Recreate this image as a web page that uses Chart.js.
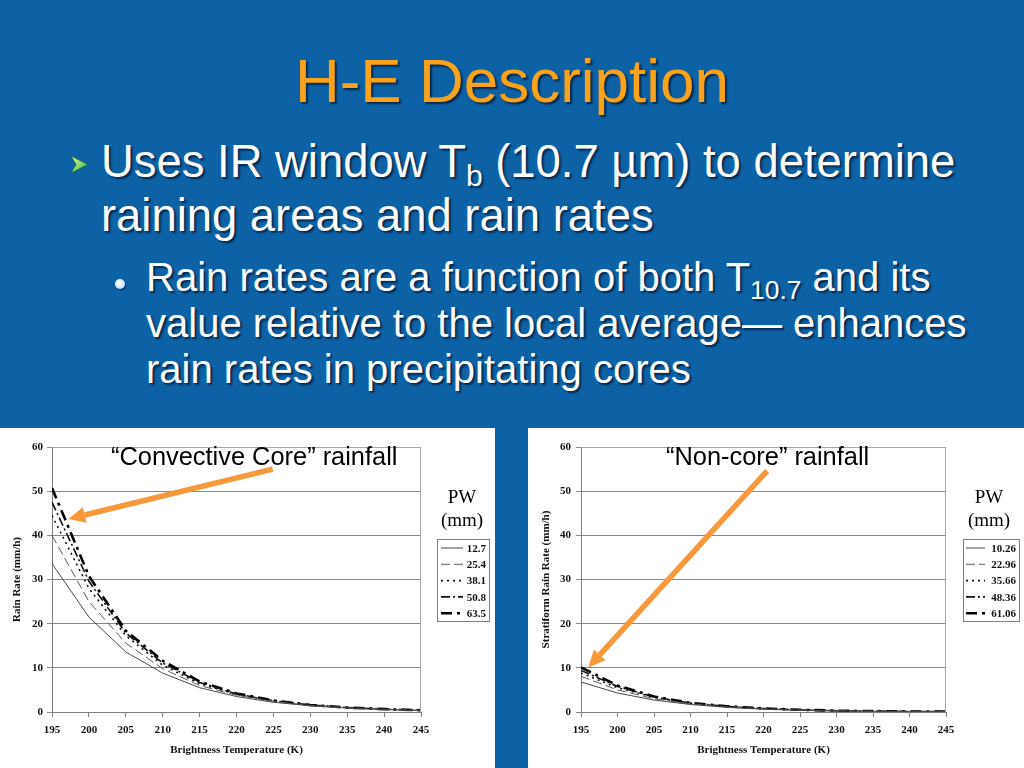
<!DOCTYPE html>
<html>
<head>
<meta charset="utf-8">
<script src="https://cdn.jsdelivr.net/npm/chart.js@4.4.1/dist/chart.umd.min.js"></script>
<style>
  html, body { margin: 0; padding: 0; }
  body {
    width: 1024px; height: 768px; position: relative; overflow: hidden;
    background: #0d62a6;
    font-family: "Liberation Sans", Arial, sans-serif;
  }
  .txt { position: absolute; white-space: nowrap; text-shadow: 2px 2px 2px rgba(0, 20, 50, 0.75); }
  .title { left: 0; width: 1024px; top: 50px; text-align: center; color: #fba21c; font-size: 62px; line-height: 62px; }
  .lvl1 { left: 101px; top: 135px; color: #fff; font-size: 45.4px; line-height: 54px; }
  .lvl2 { left: 146px; top: 254px; color: #fff; font-size: 40px; line-height: 46px; }
  .sub { position: relative; top: 0.3em; font-size: 0.66em; line-height: 0; }
  .dot { position: absolute; left: 115px; top: 279px; width: 10px; height: 10px; border-radius: 50%;
         background: radial-gradient(circle at 35% 35%, #ffffff, #b8d8f4); box-shadow: 1px 1px 1px rgba(0,0,0,.5); }
  .panel { position: absolute; top: 428px; height: 340px; background: #fff; }
  canvas { position: absolute; top: 428px; }
  .note { position: absolute; color: #000; font-size: 25.4px; line-height: 25px; white-space: nowrap; }
  .pw { position: absolute; width: 60px; text-align: center; color: #000;
        font-family: "Liberation Serif", "Times New Roman", serif; font-size: 19px; line-height: 23px; top: 485px; }
</style>
</head>
<body>
<div class="txt title">H-E Description</div>
<svg style="position:absolute;left:70px;top:155px" width="19" height="19" viewBox="0 0 19 19">
  <defs><linearGradient id="g" x1="0" y1="0" x2="1" y2="1">
    <stop offset="0" stop-color="#e4ff9a"/><stop offset="1" stop-color="#2fae4a"/></linearGradient></defs>
  <polygon points="1,1 18,9.5 1,18 6,9.5" fill="url(#g)" stroke="#155e2a" stroke-width="0.7"/>
</svg>
<div class="txt lvl1">Uses IR window T<span class="sub">b</span> (10.7 µm) to determine<br>raining areas and rain rates</div>
<div class="dot"></div>
<div class="txt lvl2">Rain rates are a function of both T<span class="sub">10.7</span> and its<br>value relative to the local average— enhances<br>rain rates in precipitating cores</div>

<div class="panel" style="left:0;width:495px"></div>
<div class="panel" style="left:528px;width:496px"></div>
<canvas id="coreChart" width="495" height="340" style="left:0"></canvas>
<canvas id="stratChart" width="496" height="340" style="left:528px"></canvas>

<div class="note" style="left:111px;top:444px">“Convective Core” rainfall</div>
<div class="note" style="left:666px;top:444px">“Non-core” rainfall</div>
<div class="pw" style="left:432px">PW<br>(mm)</div>
<div class="pw" style="left:959px">PW<br>(mm)</div>

<script>
// brightness temperature (K)
const tempK = [195, 200, 205, 210, 215, 220, 225, 230, 235, 240, 245];

// convective core rain rate (mm/h) by PW (mm)
const coreLabels = ["12.7", "25.4", "38.1", "50.8", "63.5"];
const core127 = [33.6, 21.5, 13.6, 8.8, 5.5, 3.5, 2.2, 1.4, 0.9, 0.55, 0.35];
const core254 = [40.0, 25.0, 15.6, 9.8, 6.0, 3.8, 2.4, 1.5, 0.95, 0.6, 0.38];
const core381 = [44.5, 28.0, 17.3, 10.6, 6.4, 4.0, 2.5, 1.55, 1.0, 0.62, 0.4];
const core508 = [47.5, 29.6, 17.9, 11.1, 6.7, 4.1, 2.55, 1.6, 1.0, 0.63, 0.4];
const core635 = [50.7, 30.8, 18.4, 11.6, 6.9, 4.2, 2.6, 1.6, 1.0, 0.64, 0.4];

// stratiform (non-core) rain rate (mm/h) by PW (mm)
const stratLabels = ["10.26", "22.96", "35.66", "48.36", "61.06"];
const strat1026 = [6.8, 4.3, 2.7, 1.7, 1.05, 0.65, 0.4, 0.25, 0.15, 0.1, 0.06];
const strat2296 = [8.1, 5.0, 3.0, 1.85, 1.15, 0.7, 0.45, 0.28, 0.17, 0.11, 0.07];
const strat3566 = [8.8, 5.5, 3.3, 1.95, 1.2, 0.75, 0.47, 0.29, 0.18, 0.11, 0.07];
const strat4836 = [9.4, 5.8, 3.4, 2.0, 1.25, 0.78, 0.48, 0.3, 0.19, 0.12, 0.08];
const strat6106 = [10.1, 6.0, 3.5, 2.05, 1.3, 0.8, 0.5, 0.3, 0.2, 0.12, 0.08];

const serif = "'Liberation Serif', 'Times New Roman', serif";
const lineStyles = [
  { borderColor: "#4a4a4a", borderWidth: 1, borderDash: [] },
  { borderColor: "#5a5a5a", borderWidth: 1, borderDash: [9, 4] },
  { borderColor: "#111", borderWidth: 1.6, borderDash: [2, 4] },
  { borderColor: "#111", borderWidth: 1.6, borderDash: [9, 3, 2, 3] },
  { borderColor: "#000", borderWidth: 2.6, borderDash: [11, 5, 3, 5] },
];

// legend box drawn from the datasets
const pwLegend = {
  id: "pwLegend",
  afterDraw(chart, args, o) {
    const ctx = chart.ctx;
    ctx.save();
    ctx.strokeStyle = "#808080";
    ctx.lineWidth = 1;
    ctx.strokeRect(o.x + 0.5, o.y + 0.5, o.w, o.h);
    ctx.font = "bold 11px " + serif;
    ctx.textAlign = "right";
    ctx.textBaseline = "middle";
    chart.data.datasets.forEach((ds, i) => {
      const yy = o.y + 9 + i * 16.3;
      ctx.beginPath();
      ctx.setLineDash(ds.borderDash);
      ctx.lineWidth = ds.borderWidth;
      ctx.strokeStyle = ds.borderColor;
      ctx.moveTo(o.x + o.l0, yy);
      ctx.lineTo(o.x + o.l1, yy);
      ctx.stroke();
      ctx.setLineDash([]);
      ctx.fillStyle = "#111";
      ctx.fillText(ds.label, o.x + o.w - 3, yy + 1);
    });
    ctx.restore();
  }
};

// frame + orange callout arrow, placed in data units
const frameAndArrow = {
  id: "frameAndArrow",
  afterDraw(chart, args, o) {
    const { ctx, chartArea: a, scales: { x, y } } = chart;
    ctx.save();
    ctx.strokeStyle = "#a8a8a8";
    ctx.lineWidth = 1;
    ctx.beginPath();
    ctx.moveTo(a.left, a.top + 0.5);
    ctx.lineTo(a.right - 0.5, a.top + 0.5);
    ctx.lineTo(a.right - 0.5, a.bottom);
    ctx.stroke();

    const x0 = x.getPixelForValue(o.from[0]), y0 = y.getPixelForValue(o.from[1]);
    const x1 = x.getPixelForValue(o.to[0]), y1 = y.getPixelForValue(o.to[1]);
    const ang = Math.atan2(y1 - y0, x1 - x0);
    const head = 17, half = 8;
    const bx = x1 - head * Math.cos(ang), by = y1 - head * Math.sin(ang);
    ctx.strokeStyle = ctx.fillStyle = "#f7993b";
    ctx.lineWidth = 5.5;
    ctx.beginPath();
    ctx.moveTo(x0, y0);
    ctx.lineTo(bx, by);
    ctx.stroke();
    ctx.beginPath();
    ctx.moveTo(x1, y1);
    ctx.lineTo(bx + half * Math.sin(ang), by - half * Math.cos(ang));
    ctx.lineTo(bx - half * Math.sin(ang), by + half * Math.cos(ang));
    ctx.closePath();
    ctx.fill();
    ctx.restore();
  }
};

function makeChart(id, labels, series, yTitle, cfg) {
  const datasets = series.map((vals, i) => ({
    label: labels[i],
    data: vals.map((v, j) => ({ x: tempK[j], y: v })),
    ...lineStyles[i],
    pointRadius: 0,
    tension: 0,
    fill: false
  }));
  return new Chart(document.getElementById(id), {
    type: "line",
    data: { datasets },
    plugins: [pwLegend, frameAndArrow],
    options: {
      responsive: false,
      animation: false,
      layout: { padding: { top: 19, right: cfg.right, left: 0, bottom: 0 } },
      plugins: {
        legend: { display: false },
        tooltip: { enabled: false },
        pwLegend: cfg.legend,
        frameAndArrow: cfg.arrow
      },
      scales: {
        x: {
          type: "linear", min: 195, max: 245,
          ticks: { stepSize: 5, padding: 7, color: "#111", font: { family: serif, size: 11, weight: "bold" } },
          grid: { drawOnChartArea: false, tickLength: 5, color: "#808080" },
          border: { color: "#808080" },
          title: { display: true, text: "Brightness Temperature (K)", color: "#111",
                   font: { family: serif, size: 11, weight: "bold" }, padding: { top: 0, bottom: 11 } },
          afterFit: s => { s.height = 56; }
        },
        y: {
          min: 0, max: 60,
          ticks: { stepSize: 10, padding: cfg.yPad, color: "#111", font: { family: serif, size: 11, weight: "bold" } },
          grid: { color: "#8a8a8a", tickLength: 5 },
          border: { color: "#808080" },
          title: { display: true, text: yTitle, color: "#111",
                   font: { family: serif, size: 11, weight: "bold" }, padding: { top: cfg.yTitlePad, bottom: 0 } },
          afterFit: s => { s.width = cfg.left; }
        }
      }
    }
  });
}

makeChart("coreChart", coreLabels, [core127, core254, core381, core508, core635], "Rain Rate (mm/h)", {
  left: 52, right: 74, yPad: 4, yTitlePad: 11,
  legend: { x: 437, y: 111, w: 52, h: 82, l0: 4, l1: 26 },
  arrow: { from: [224.9, 55.0], to: [197.2, 43.7] }
});

makeChart("stratChart", stratLabels, [strat1026, strat2296, strat3566, strat4836, strat6106], "Stratiform Rain Rate (mm/h)", {
  left: 53, right: 78, yPad: 5, yTitlePad: 12,
  legend: { x: 435, y: 111, w: 56, h: 82, l0: 3, l1: 22 },
  arrow: { from: [220.5, 54.6], to: [196.0, 10.1] }
});
</script>
</body>
</html>
